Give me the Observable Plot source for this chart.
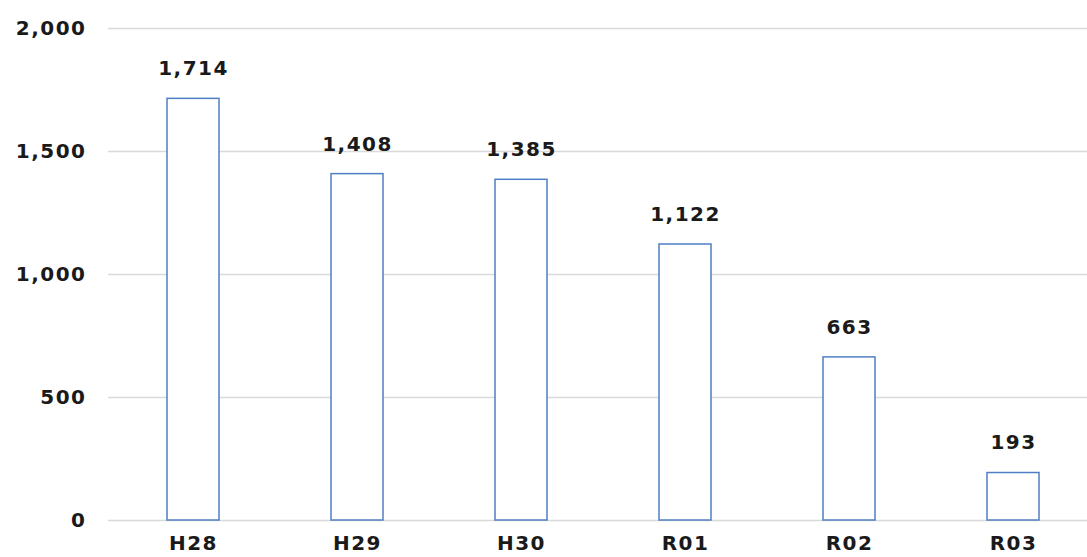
<!DOCTYPE html>
<html>
<head>
<meta charset="utf-8">
<script src="https://cdn.jsdelivr.net/npm/d3@7"></script>
<script src="https://cdn.jsdelivr.net/npm/@observablehq/plot@0.6"></script>
<style>
  html, body { margin: 0; padding: 0; background: #fff; overflow: hidden; }
  svg text { letter-spacing: 1.5px; }
</style>
</head>
<body>
<div id="chart"></div>
<script>
const categories = ["H28", "H29", "H30", "R01", "R02", "R03"];
const values = [1714, 1408, 1385, 1122, 663, 193];
const yTicks = [0, 500, 1000, 1500, 2000];

const data = categories.map((c, i) => ({cat: c, value: values[i]}));
const fmt = d3.format(",");
const FONT = '"DejaVu Sans", "Noto Sans", sans-serif';

const chart = Plot.plot({
  width: 1087,
  height: 557,
  marginTop: 28,
  marginBottom: 37,
  marginLeft: 108,
  marginRight: 0,
  style: {fontFamily: FONT, fontSize: "20px", fontWeight: "bold", color: "#1a1a1a", background: "#fff"},
  x: {domain: categories, range: [108, 1097], paddingInner: 0.684, paddingOuter: 0.342, label: null},
  y: {domain: [0, 2000], label: null},
  marks: [
    Plot.ruleY(yTicks, {stroke: "#d9d9d9", strokeWidth: 1.5}),
    Plot.barY(data, {x: "cat", y: "value", fill: "#fff", stroke: "#4f7fc3", strokeWidth: 1.5, inset: 0}),
    Plot.text(data, {x: "cat", y: "value", text: d => fmt(d.value), dy: -30, fill: "#1a1a1a", fontSize: 20, fontWeight: "bold"}),
    Plot.axisY({ticks: yTicks, tickFormat: fmt, tickSize: 0, tickPadding: 22, fontSize: 20, fontWeight: "bold", label: null}),
    Plot.axisX({tickSize: 0, tickPadding: 15, fontSize: 20, fontWeight: "bold", label: null})
  ]
});
document.getElementById("chart").appendChild(chart);
</script>
</body>
</html>
